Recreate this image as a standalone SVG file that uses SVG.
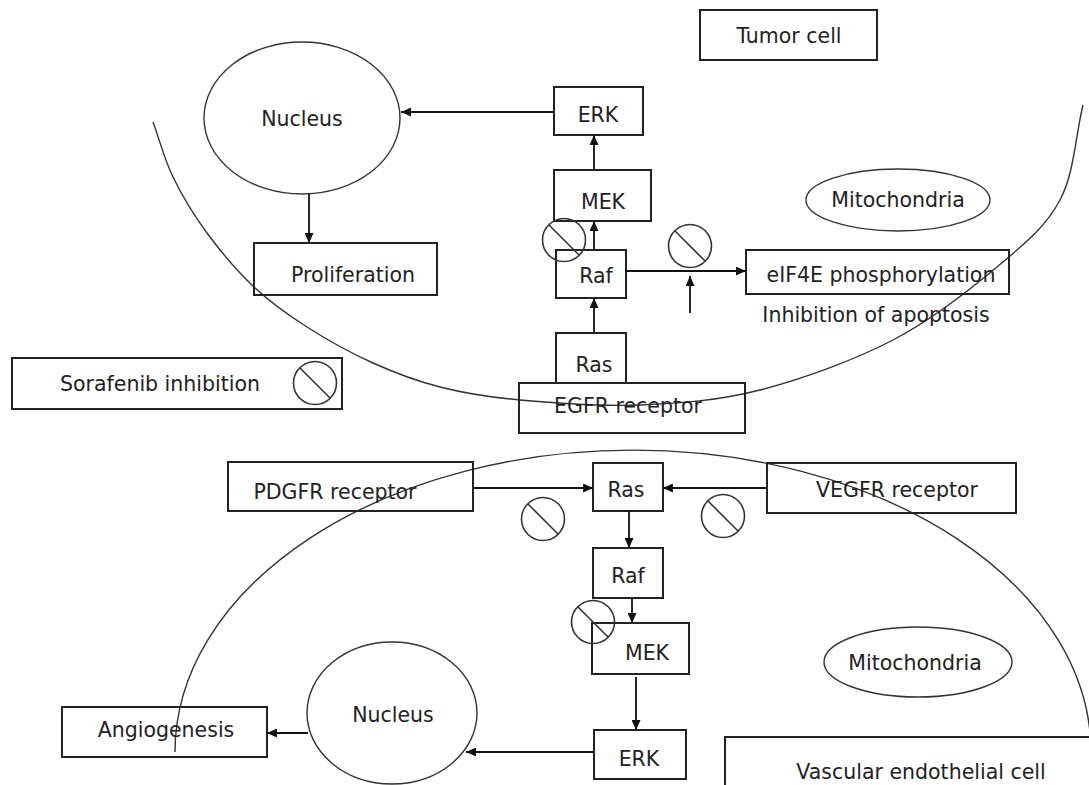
<svg xmlns="http://www.w3.org/2000/svg" xmlns:xlink="http://www.w3.org/1999/xlink" width="1089" height="785" viewBox="0 0 1089 785">
<style>
text{font-family:"DejaVu Sans","Liberation Sans",sans-serif;font-size:20.5px;fill:#222;text-anchor:middle}
.box{fill:none;stroke:#222;stroke-width:2}
.ell{fill:none;stroke:#333;stroke-width:1.4}
.cell{fill:none;stroke:#333;stroke-width:1.4}
.conn{fill:none;stroke:#111;stroke-width:1.8;marker-end:url(#ah)}
.inh circle,.inh line{fill:none;stroke:#333;stroke-width:1.6}
</style>
<defs>
<marker id="ah" markerUnits="userSpaceOnUse" markerWidth="11" markerHeight="9" refX="10" refY="4.5" orient="auto">
<path d="M0,0 L10,4.5 L0,9 z" fill="#111"/>
</marker>
<g id="inhib" class="inh"><circle cx="0" cy="0" r="21.5"/><line x1="-15" y1="-15" x2="15" y2="15"/></g>
</defs>
<rect width="1089" height="785" fill="#fff"/>

<g id="cells">
<path class="cell" d="M153,122 C159.7,140.3 164,158.5 173,177 C182,195.5 193.5,214.7 207,233 C220.5,251.3 237.3,271.3 254,287 C270.7,302.7 287.2,314.3 307,327 C326.8,339.7 350.8,353 373,363 C395.2,373 415.5,380.8 440,387 C464.5,393.2 486.7,397 520,400 C553.3,403 600,406.7 640,405 C680,403.3 717.8,400.8 760,390 C802.2,379.2 853.5,360.5 893,340 C932.5,319.5 969.2,290.3 997,267 C1024.8,243.7 1045.7,227 1060,200 C1074.3,173 1075.3,136.7 1083,105"/>
<path class="cell" d="M175,752 A455,300 0 0 1 1091,752"/>
</g>

<g id="tumor-cell"><rect class="box" x="700" y="10" width="177" height="50"/><text x="789" y="43">Tumor cell</text></g>
<g id="nucleus-top"><ellipse class="ell" cx="302" cy="118" rx="98" ry="76"/><text x="302" y="126">Nucleus</text></g>
<g id="erk-top"><rect class="box" x="554" y="87" width="89" height="48"/><text x="598" y="122">ERK</text></g>
<g id="mek-top"><rect class="box" x="554" y="170" width="97" height="51"/><text x="603" y="209">MEK</text></g>
<g id="raf-top"><rect class="box" x="556" y="250" width="70" height="48"/><text x="596" y="283">Raf</text></g>
<g id="proliferation"><rect class="box" x="254" y="243" width="183" height="52"/><text x="353" y="282">Proliferation</text></g>
<g id="mito-top"><ellipse class="ell" cx="898" cy="200" rx="92" ry="31"/><text x="898" y="207">Mitochondria</text></g>
<g id="eif4e"><rect class="box" x="746" y="250" width="263" height="44"/><text x="881" y="282">eIF4E phosphorylation</text></g>
<g id="apoptosis"><text x="876" y="322">Inhibition of apoptosis</text></g>
<g id="ras-top"><rect class="box" x="556" y="333" width="70" height="50"/><text x="594" y="372">Ras</text></g>
<g id="egfr"><rect class="box" x="519" y="383" width="226" height="50"/><text x="628" y="413">EGFR receptor</text></g>
<g id="sorafenib"><rect class="box" x="12" y="358" width="330" height="51"/><text x="160" y="391">Sorafenib inhibition</text><use xlink:href="#inhib" x="315" y="383"/></g>

<g id="pdgfr"><rect class="box" x="228" y="462" width="245" height="49"/><text x="335" y="499">PDGFR receptor</text></g>
<g id="ras-bot"><rect class="box" x="593" y="463" width="70" height="48"/><text x="626" y="497">Ras</text></g>
<g id="vegfr"><rect class="box" x="767" y="463" width="249" height="50"/><text x="897" y="497">VEGFR receptor</text></g>
<g id="raf-bot"><rect class="box" x="593" y="548" width="70" height="50"/><text x="628" y="583">Raf</text></g>
<g id="mek-bot"><rect class="box" x="592" y="623" width="97" height="51"/><text x="647" y="660">MEK</text></g>
<g id="erk-bot"><rect class="box" x="594" y="730" width="92" height="49"/><text x="639" y="766">ERK</text></g>
<g id="mito-bot"><ellipse class="ell" cx="918" cy="662" rx="94" ry="35"/><text x="915" y="670">Mitochondria</text></g>
<g id="vascular"><rect class="box" x="725" y="737" width="366" height="60"/><text x="921" y="779">Vascular endothelial cell</text></g>
<g id="nucleus-bot"><ellipse class="ell" cx="392" cy="713" rx="85" ry="71"/><text x="393" y="722">Nucleus</text></g>
<g id="angiogenesis"><rect class="box" x="62" y="707" width="205" height="50"/><text x="166" y="737">Angiogenesis</text></g>

<g id="inhibitors">
<use xlink:href="#inhib" x="564" y="240"/>
<use xlink:href="#inhib" x="690" y="246"/>
<use xlink:href="#inhib" x="543" y="519"/>
<use xlink:href="#inhib" x="723" y="516"/>
<use xlink:href="#inhib" x="593" y="622"/>
</g>

<g id="connectors">
<line class="conn" x1="553" y1="112" x2="401" y2="112"/>
<line class="conn" x1="309" y1="194" x2="309" y2="243"/>
<line class="conn" x1="594" y1="170" x2="594" y2="135"/>
<line class="conn" x1="594" y1="250" x2="594" y2="221"/>
<line class="conn" x1="594" y1="333" x2="594" y2="298"/>
<line class="conn" x1="626" y1="271" x2="746" y2="271"/>
<line class="conn" x1="690" y1="313" x2="690" y2="276"/>
<line class="conn" x1="473" y1="488" x2="593" y2="488"/>
<line class="conn" x1="767" y1="488" x2="663" y2="488"/>
<line class="conn" x1="629" y1="511" x2="629" y2="548"/>
<line class="conn" x1="632" y1="598" x2="632" y2="623"/>
<line class="conn" x1="636" y1="677" x2="636" y2="730"/>
<line class="conn" x1="594" y1="752" x2="466" y2="752"/>
<line class="conn" x1="308" y1="733" x2="267" y2="733"/>
</g>
</svg>
